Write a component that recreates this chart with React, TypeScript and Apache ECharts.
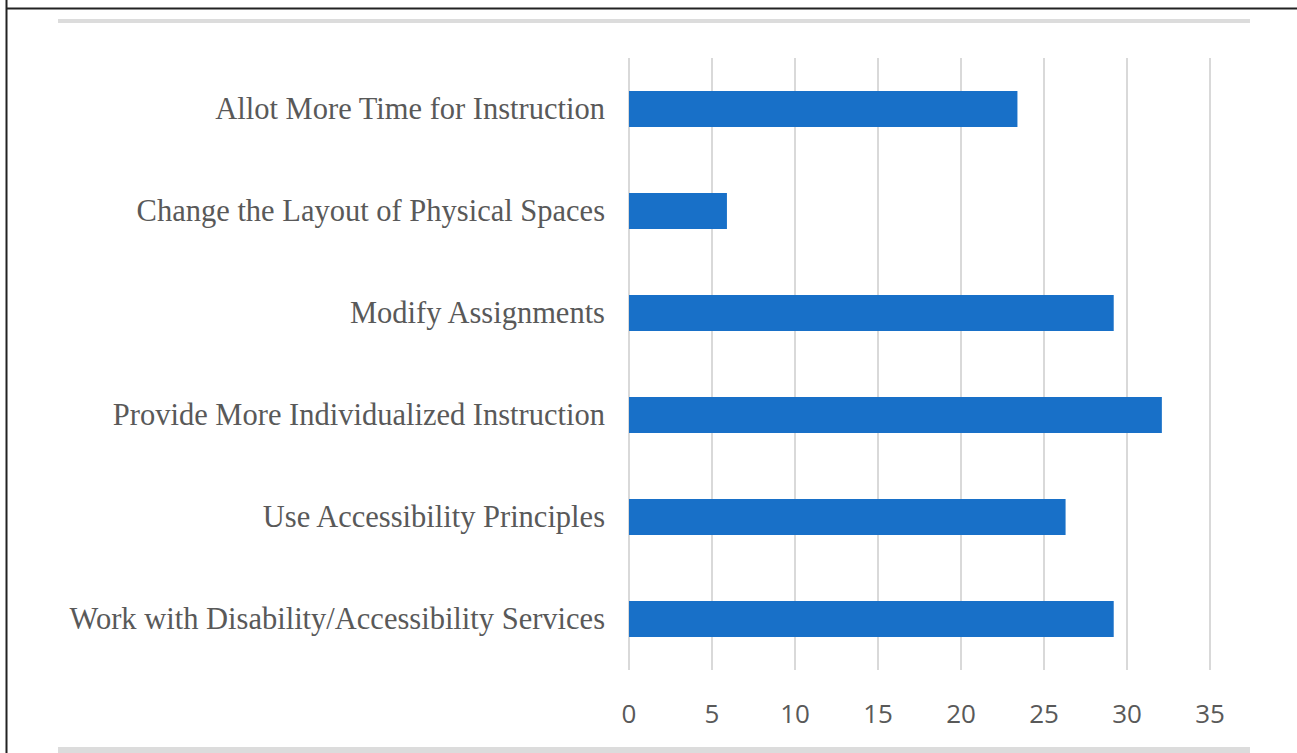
import React, { useEffect, useRef } from "react";
import * as echarts from "echarts";

const categories = [
  "Allot More Time for Instruction",
  "Change the Layout of Physical Spaces",
  "Modify Assignments",
  "Provide More Individualized Instruction",
  "Use Accessibility Principles",
  "Work with Disability/Accessibility Services",
];
const values = [23.4, 5.9, 29.2, 32.1, 26.3, 29.2];

export default function App() {
  const ref = useRef<HTMLDivElement>(null);
  useEffect(() => {
    document.body.style.margin = "0";
    const chart = echarts.init(ref.current!, null, { renderer: "svg" });
    chart.setOption({
      animation: false,
      backgroundColor: "#ffffff",
      grid: { left: 629, right: 87, top: 58, bottom: 83, containLabel: false },
      xAxis: {
        type: "value",
        min: 0,
        max: 35,
        interval: 5,
        axisLine: { show: false },
        axisTick: { show: false },
        splitLine: { show: true, lineStyle: { color: "#d9d9d9", width: 2 } },
        axisLabel: {
          color: "#595959",
          fontFamily: "Open Sans",
          fontSize: 26,
          margin: 30,
        },
      },
      yAxis: {
        type: "category",
        inverse: true,
        data: categories,
        axisLine: { show: false },
        axisTick: { show: false },
        splitLine: { show: false },
        axisLabel: {
          color: "#595959",
          fontFamily: "Liberation Serif",
          fontSize: 30.5,
          margin: 24,
        },
      },
      series: [
        {
          type: "bar",
          data: values,
          barWidth: 36,
          itemStyle: { color: "#1870c8" },
        },
      ],
      graphic: [
        { type: "rect", shape: { x: 58, y: 19, width: 1192, height: 4 }, style: { fill: "#dcdcdc" } },
        { type: "rect", shape: { x: 58, y: 747, width: 1192, height: 6 }, style: { fill: "#dcdcdc" } },
        { type: "line", shape: { x1: 6, y1: 8.5, x2: 1297, y2: 8.5 }, style: { stroke: "#222", lineWidth: 2 } },
        { type: "line", shape: { x1: 6.5, y1: 0, x2: 6.5, y2: 753 }, style: { stroke: "#222", lineWidth: 2 } },
      ],
    });
    return () => chart.dispose();
  }, []);
  return <div ref={ref} style={{ width: 1297, height: 753 }} />;
}
